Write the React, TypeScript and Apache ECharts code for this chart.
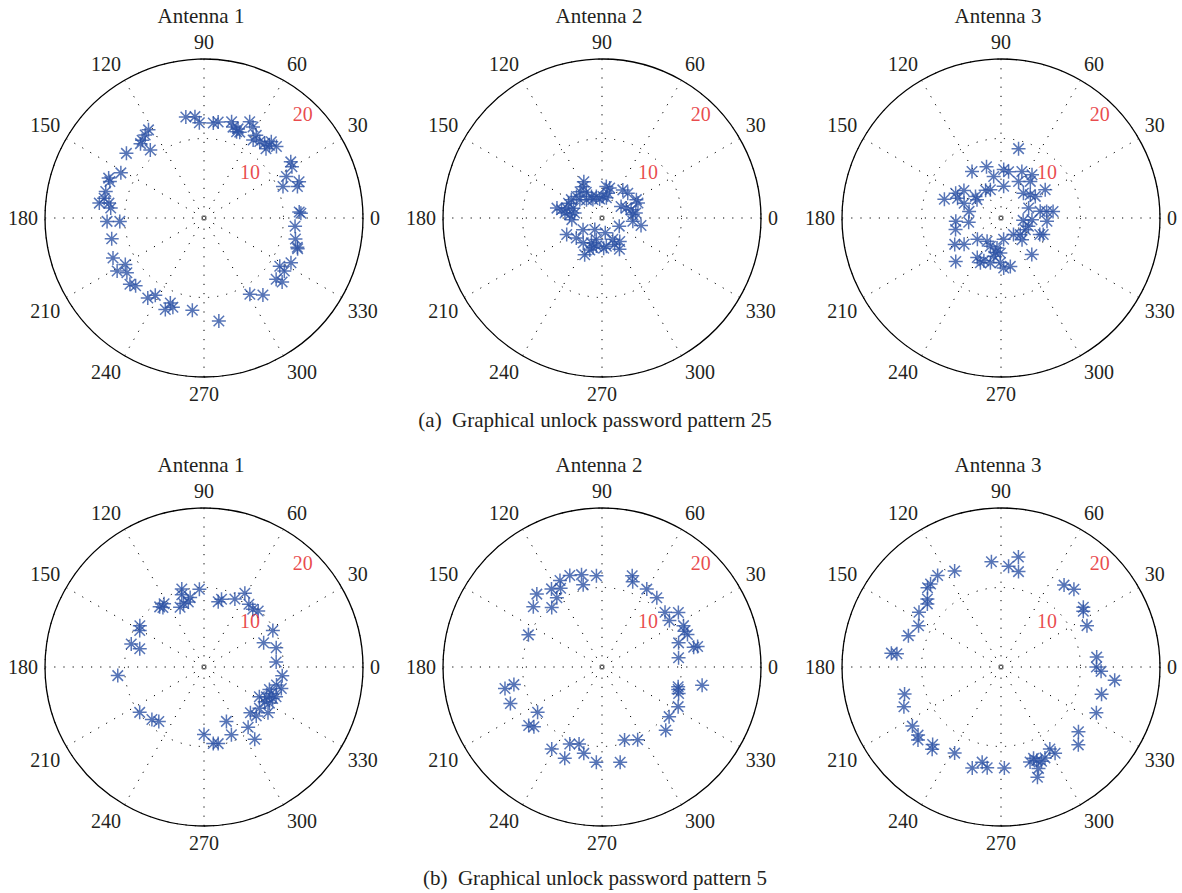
import React, { useEffect, useRef } from 'react';
import * as echarts from 'echarts';

// ---- data: [radius, angle(deg)] ----
const p25Antenna1: number[][] = [
  [12.9, 100.2], [12.8, 95.1], [12.0, 92.8], [12.0, 84.4], [12.2, 81.6], [12.6, 74.0], [12.0, 72.3], [12.0, 69.1],
  [11.7, 67.4], [11.6, 69.3], [13.4, 64.6], [13.0, 61.7], [12.3, 57.7], [11.6, 57.8], [11.9, 53.9], [12.1, 50.9],
  [12.3, 48.0], [12.8, 48.6], [12.8, 44.6], [11.7, 48.2],
  [13.1, 122.2], [12.8, 125.3], [12.5, 128.5], [12.3, 130.5], [10.9, 128.3], [12.7, 140.2],
  [13.0, 32.9], [12.8, 30.2], [11.6, 26.7], [10.7, 21.8], [12.8, 20.9], [12.4, 18.6],
  [11.9, 151.5], [13.0, 157.3], [12.7, 158.8], [12.8, 164.9], [12.8, 168.8], [13.3, 171.9], [12.1, 171.1],
  [11.8, 173.9], [12.2, 182.0], [10.6, 182.3],
  [12.0, 3.6], [12.2, 2.8], [11.5, 354.8], [11.8, 347.1], [12.4, 341.8], [12.3, 342.6], [12.3, 332.8], [11.3, 327.5],
  [12.1, 326.6], [11.9, 319.7], [12.7, 320.7], [11.2, 301.0], [12.2, 307.4],
  [11.9, 192.7], [12.5, 203.7], [11.5, 210.6], [12.8, 211.4], [11.9, 215.4], [12.5, 221.8], [12.1, 224.7],
  [12.3, 234.9], [11.5, 237.8], [11.5, 248.4], [12.5, 247.1], [11.9, 250.8], [11.7, 262.8], [13.1, 278.2],
];

const p25Antenna2: number[][] = [
  [5.1, 116.6], [4.6, 121.0], [4.3, 129.9], [3.8, 121.4], [3.0, 116.2], [2.8, 104.7], [2.6, 116.1], [4.2, 139.8],
  [4.5, 149.1], [4.6, 156.2], [5.8, 167.6], [5.2, 168.4], [4.6, 164.3], [3.8, 161.0], [4.1, 174.1], [3.8, 183.1],
  [4.7, 172.4], [3.5, 169.6], [4.0, 82.2], [3.9, 75.7], [3.2, 76.5], [2.7, 87.4], [2.6, 77.8], [2.4, 97.0],
  [4.4, 53.5], [4.5, 43.9], [4.9, 28.1], [4.9, 22.6], [2.8, 31.1], [3.3, 22.3], [3.8, 15.9], [3.9, 6.1],
  [4.3, 8.3], [3.9, 353.9], [5.0, 349.0], [2.4, 334.7], [2.8, 211.6], [1.7, 237.8], [4.9, 205.0], [4.1, 217.9],
  [3.9, 232.8], [3.4, 246.9], [2.8, 255.3], [1.9, 282.5], [3.0, 296.9], [3.7, 295.4], [3.7, 307.1], [3.6, 278.7],
  [4.5, 299.2], [3.9, 253.3], [5.1, 244.7], [4.3, 249.1], [3.6, 258.7], [3.8, 273.2], [3.6, 140.6], [3.0, 130.5],
];

const p25Antenna3: number[][] = [
  [9.0, 75.8], [6.9, 121.9], [6.7, 105.8], [5.3, 100.0], [6.1, 86.8], [5.9, 80.7], [6.4, 65.8], [6.7, 54.4],
  [5.9, 51.3], [5.1, 64.3], [4.0, 85.2], [4.0, 118.9], [3.8, 110.6], [7.5, 161.7], [6.5, 151.3], [6.0, 155.6],
  [5.8, 143.5], [4.2, 139.8], [3.8, 142.6], [5.0, 158.1], [4.1, 168.3], [5.7, 184.2], [5.9, 194.3], [4.1, 187.6],
  [6.7, 209.7], [5.7, 215.5], [7.9, 223.9], [4.2, 47.8], [4.7, 38.5], [5.1, 32.2], [6.6, 32.6], [3.7, 19.9],
  [5.0, 9.6], [5.8, 8.2], [6.6, 7.2], [2.8, 353.9], [3.9, 356.9], [5.8, 355.9], [3.6, 343.2], [3.4, 334.4],
  [2.6, 307.2], [3.2, 319.2], [3.8, 314.1], [5.3, 337.0], [5.7, 338.7], [6.0, 310.2], [2.7, 277.0], [4.0, 222.1],
  [3.4, 239.0], [3.8, 249.4], [3.8, 262.4], [4.4, 260.8], [4.4, 268.9], [5.8, 239.0], [6.2, 245.3], [5.8, 256.7],
  [5.6, 269.2], [6.3, 273.1], [6.2, 280.9], [5.8, 248.2], [4.9, 259.2],
];

const p5Antenna1: number[][] = [
  [10.2, 105.9], [9.5, 107.1], [9.8, 93.4], [8.9, 101.3], [8.4, 103.6], [8.4, 107.8], [8.1, 111.8], [9.4, 122.3],
  [9.4, 126.4], [9.1, 124.6], [8.4, 77.7], [8.8, 75.5], [9.4, 65.6], [10.6, 61.0], [9.7, 54.4], [9.5, 49.8],
  [9.8, 45.9], [9.6, 147.2], [9.3, 150.4], [9.6, 162.4], [8.4, 164.2], [10.9, 185.7], [9.8, 27.9], [8.1, 22.1],
  [9.4, 14.9], [9.1, 3.9], [9.9, 353.7], [9.4, 346.0], [10.1, 344.4], [8.7, 341.0], [8.7, 334.4], [9.5, 335.4],
  [9.8, 337.6], [8.8, 330.2], [9.4, 331.1], [8.7, 323.3], [8.2, 315.4], [9.0, 316.9], [9.9, 324.4], [9.9, 215.2],
  [9.3, 225.2], [8.9, 230.3], [7.4, 292.4], [9.2, 292.0], [9.4, 306.2], [11.1, 305.1], [8.5, 270.0], [9.7, 276.9],
  [9.8, 280.5], [7.9, 331.8], [9.1, 338.5],
];

const p5Antenna2: number[][] = [
  [12.2, 109.4], [11.9, 102.5], [10.6, 102.9], [11.5, 93.5], [12.1, 115.9], [11.2, 117.7], [11.7, 122.9], [10.4, 123.1],
  [12.3, 131.8], [11.5, 138.7], [9.8, 130.2], [10.1, 156.4], [12.1, 71.7], [11.4, 70.2], [11.3, 60.1], [11.1, 51.6],
  [10.5, 41.0], [10.3, 34.6], [11.8, 35.5], [11.5, 26.9], [11.3, 23.5], [11.5, 20.8], [10.1, 17.5], [11.8, 12.2],
  [12.3, 12.1], [9.7, 6.9], [12.8, 349.7], [9.9, 345.4], [10.0, 343.5], [10.2, 340.9], [10.8, 332.5], [10.5, 323.5],
  [11.3, 315.2], [9.6, 287.2], [10.2, 296.1], [12.5, 192.5], [11.3, 191.3], [12.4, 201.7], [9.9, 215.1], [11.8, 218.6],
  [11.4, 221.3], [12.1, 238.5], [10.5, 247.3], [10.1, 253.4], [11.1, 258.1], [12.4, 247.8], [12.0, 266.6], [12.2, 280.8],
];

const p5Antenna3: number[][] = [
  [13.3, 95.2], [12.7, 85.7], [14.0, 81.0], [12.2, 79.6], [13.4, 115.8], [14.0, 124.7], [13.7, 130.3], [13.6, 132.8],
  [12.6, 137.3], [12.2, 139.4], [12.4, 146.3], [11.6, 153.4], [12.3, 161.3], [13.9, 172.8], [13.2, 172.7], [13.0, 52.4],
  [13.4, 46.8], [12.8, 36.0], [12.5, 34.1], [12.0, 25.7], [12.1, 5.9], [12.0, 0.0], [12.6, 357.5], [14.4, 353.3],
  [13.1, 344.9], [13.3, 334.4], [12.7, 320.1], [13.8, 314.8], [12.6, 195.7], [13.2, 202.3], [13.4, 213.7], [13.5, 219.4],
  [13.9, 221.3], [13.0, 228.6], [13.5, 230.1], [12.3, 241.7], [13.2, 254.1], [12.2, 258.8], [12.8, 262.2], [12.7, 271.9],
  [12.5, 287.0], [12.6, 290.9], [13.6, 290.3], [14.6, 288.3], [12.7, 295.8], [12.0, 300.8], [12.8, 302.1], [12.2, 289.6],
  [12.9, 293.3],
];

const panelData = [p25Antenna1, p25Antenna2, p25Antenna3, p5Antenna1, p5Antenna2, p5Antenna3];
const panelTitles = ['Antenna 1', 'Antenna 2', 'Antenna 3', 'Antenna 1', 'Antenna 2', 'Antenna 3'];
const captions = ['(a)  Graphical unlock password pattern 25', '(b)  Graphical unlock password pattern 5'];
const radiusTickLabels = ['10', '20'];

const FONT = "'Liberation Serif', 'Times New Roman', serif";
const TEXT_COLOR = '#231f20';
const MARK_COLOR = '#2d52a5';
const ASTERISK = 'path://M0,-10L0,10M-10,0L10,0M-7.5,-7.5L7.5,7.5M-7.5,7.5L7.5,-7.5';

export default function App() {
  const ref = useRef<HTMLDivElement>(null);

  useEffect(() => {
    document.body.style.margin = '0';
    if (!ref.current) return;
    const chart = echarts.init(ref.current, undefined, { renderer: 'svg' });

    const centers = [
      [204, 218], [602, 218], [1001, 218],
      [204, 667], [602, 667], [1001, 667],
    ];
    const R = 159;
    const labelPos = [[8.2, 45], [18.0, 46.4]];
    const dotted = { color: '#000', width: 1, type: [1.2, 8] as any };

    const polar = centers.map((c) => ({ center: c, radius: R }));
    const angleAxis = centers.map((_, i) => ({
      polarIndex: i,
      type: 'value',
      min: 0,
      max: 360,
      interval: 30,
      startAngle: 0,
      clockwise: false,
      axisLine: { show: true, lineStyle: { color: '#000', width: 1.3 } },
      axisTick: { show: false },
      axisLabel: { show: true, margin: 7, color: TEXT_COLOR, fontSize: 20, fontFamily: FONT },
      splitLine: { show: true, lineStyle: dotted },
    }));
    const radiusAxis = centers.map((_, i) => ({
      polarIndex: i,
      type: 'value',
      min: 0,
      max: 20,
      interval: 10,
      axisLine: { show: false },
      axisTick: { show: false },
      axisLabel: { show: false },
      splitLine: { show: true, lineStyle: dotted },
    }));

    const series: any[] = [];
    panelData.forEach((d, i) => {
      series.push({
        type: 'scatter',
        coordinateSystem: 'polar',
        polarIndex: i,
        data: d,
        symbol: ASTERISK,
        symbolSize: 14,
        itemStyle: { color: 'rgba(0,0,0,0)', borderColor: MARK_COLOR, borderWidth: 1.5 },
        silent: true,
        z: 5,
      });
      series.push({
        type: 'scatter',
        coordinateSystem: 'polar',
        polarIndex: i,
        symbolSize: 0,
        data: radiusTickLabels.map((t, k) => ({ value: labelPos[k], name: t })),
        label: {
          show: true,
          position: 'inside',
          formatter: '{b}',
          color: '#e3191c',
          fontSize: 20,
          fontFamily: FONT,
        },
        silent: true,
        z: 6,
      });
    });

    const graphic: any[] = [];
    centers.forEach((c, i) => {
      graphic.push({
        type: 'text',
        x: c[0] - 3,
        y: c[1] - 202,
        style: {
          text: panelTitles[i],
          fill: TEXT_COLOR,
          fontSize: 21,
          fontFamily: FONT,
          align: 'center',
          verticalAlign: 'middle',
        },
      });
    });
    graphic.push({
      type: 'text', x: 595, y: 420,
      style: { text: captions[0], fill: TEXT_COLOR, fontSize: 21, fontFamily: FONT, align: 'center', verticalAlign: 'middle' },
    });
    graphic.push({
      type: 'text', x: 595, y: 878,
      style: { text: captions[1], fill: TEXT_COLOR, fontSize: 21, fontFamily: FONT, align: 'center', verticalAlign: 'middle' },
    });

    chart.setOption({
      animation: false,
      backgroundColor: '#fff',
      polar,
      angleAxis,
      radiusAxis,
      series,
      graphic,
    });

    return () => chart.dispose();
  }, []);

  return <div ref={ref} style={{ width: 1182, height: 893 }} />;
}
